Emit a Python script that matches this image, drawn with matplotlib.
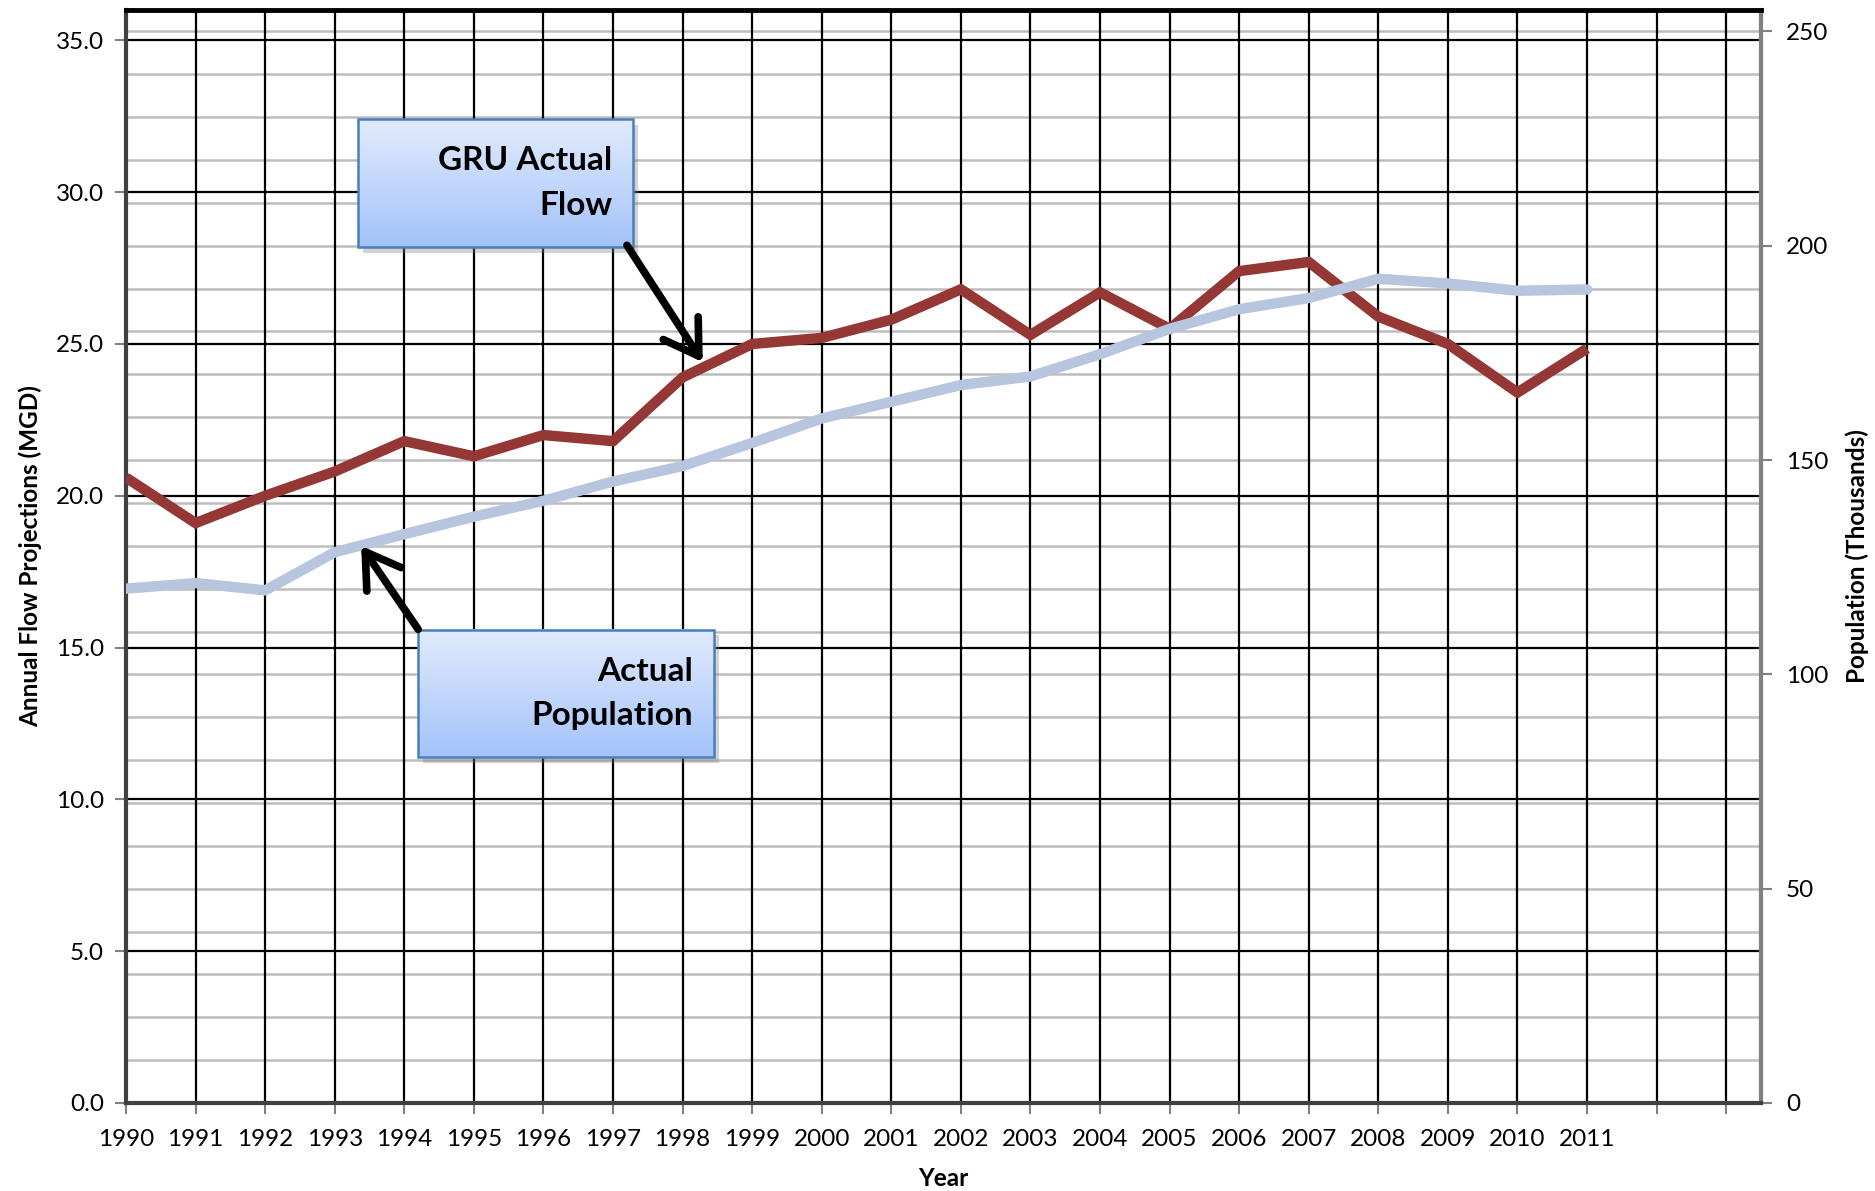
import matplotlib.pyplot as plt
import numpy as np
from matplotlib.colors import LinearSegmentedColormap
from matplotlib.patches import Rectangle

plt.rcParams['font.family'] = ['Lato', 'DejaVu Sans']

years = list(range(1990, 2012))
flow_mgd = [20.6, 19.1, 20.0, 20.8, 21.8, 21.3, 22.0, 21.8, 23.9, 25.0, 25.2,
            25.8, 26.8, 25.3, 26.7, 25.5, 27.4, 27.7, 25.9, 25.0, 23.4, 24.85]
population_k = [120.0, 121.3, 119.6, 128.5, 132.7, 136.8, 140.5, 145.0, 148.6,
                154.0, 159.7, 163.6, 167.5, 169.5, 174.7, 180.6, 185.2, 187.8,
                192.3, 191.2, 189.5, 189.8]
year_ticks = list(range(1990, 2014))
year_labels = [str(y) if y <= 2011 else '' for y in year_ticks]
flow_ticks = np.arange(0, 36, 5)
pop_ticks = np.arange(0, 251, 50)
pop_minor = np.arange(0, 251, 10)

RED = '#953735'
BLUE = '#b8c5de'

fig = plt.figure(figsize=(18.75, 11.91), dpi=100)
ax = fig.add_axes([0.0672, 0.0739, 0.8720, 0.9177])
ax2 = ax.twinx()
# right-hand axis sits behind so its grey grid stays under everything
ax.set_zorder(ax2.get_zorder() + 1)
ax.patch.set_visible(False)
ax2.patch.set_visible(True)
ax2.patch.set_facecolor('white')

ax.set_xlim(1990, 2013.5)
ax.set_ylim(0, 36)
ax2.set_ylim(0, 255)

# grids
ax2.set_yticks(pop_ticks)
ax2.set_yticks(pop_minor, minor=True)
ax2.grid(True, which='both', axis='y', color='#bdbdbd', lw=1.8)
ax2.tick_params(which='minor', length=0)
ax2.tick_params(which='major', axis='y', length=8, width=1.5, color='#808080',
                labelsize=17.5, pad=10)
for s in ax2.spines.values():
    s.set_visible(False)

ax.set_xticks(year_ticks)
ax.set_xticklabels(year_labels)
ax.set_yticks(flow_ticks)
ax.set_yticklabels([f'{v:.1f}' for v in flow_ticks])
ax.set_axisbelow(True)
ax.grid(True, color='black', lw=1.6)
ax.tick_params(axis='both', length=8, width=1.5, color='#808080', labelsize=17.5)
ax.tick_params(axis='x', pad=11)
ax.tick_params(axis='y', pad=8)

ax.spines['left'].set_color('#404040')
ax.spines['left'].set_linewidth(3)
ax.spines['bottom'].set_color('#404040')
ax.spines['bottom'].set_linewidth(3)
ax.spines['top'].set_color('black')
ax.spines['top'].set_linewidth(3.5)
ax.spines['right'].set_color('#808080')
ax.spines['right'].set_linewidth(3)

# data lines
ax.plot(years, flow_mgd, color=RED, lw=7.5, solid_joinstyle='miter',
        solid_capstyle='butt', zorder=3)
ax.plot(years, population_k, color=BLUE, lw=7.5, solid_capstyle='round',
        transform=ax2.transData, zorder=3)

ax.set_xlabel('Year', fontsize=17.5, fontweight='bold', labelpad=12)
ax.set_ylabel('Annual Flow Projections (MGD)', fontsize=17.5, fontweight='bold',
              labelpad=10)
ax2.set_ylabel('Population (Thousands)', fontsize=17.5, fontweight='bold',
               rotation=90, labelpad=12)

# callout boxes
grad_cmap = LinearSegmentedColormap.from_list('box', ['#a3c3fa', '#e2ebfd'])
gradient = np.linspace(0, 1, 256).reshape(-1, 1)


def callout(x0, x1, y0, y1, text, tip, tail):
    ax.add_patch(Rectangle((x0 + 0.07, y0 - 0.18), x1 - x0, y1 - y0,
                           facecolor='#7f7f7f', alpha=0.35, lw=0, zorder=5))
    ax.imshow(gradient, extent=[x0, x1, y0, y1], aspect='auto', cmap=grad_cmap,
              origin='lower', zorder=6)
    ax.add_patch(Rectangle((x0, y0), x1 - x0, y1 - y0, fill=False,
                           edgecolor='#4a7ebb', lw=1.8, zorder=7))
    ax.text(x1 - 0.3, (y0 + y1) / 2, text, ha='right', va='center',
            fontsize=24, fontweight='bold', linespacing=1.65, zorder=8)
    ax.annotate('', xy=tip, xytext=tail, zorder=8,
                arrowprops=dict(arrowstyle='->,head_length=0.8,head_width=0.5',
                                color='black', lw=5.5, mutation_scale=30,
                                shrinkA=0, shrinkB=0))


callout(1993.33, 1997.29, 28.19, 32.4, 'GRU Actual\nFlow',
        tip=(1998.29, 24.4), tail=(1997.2, 28.25))
callout(1994.2, 1998.45, 11.38, 15.59, 'Actual\nPopulation',
        tip=(1993.38, 18.35), tail=(1994.2, 15.6))

ax.set_xlim(1990, 2013.5)
ax.set_ylim(0, 36)

fig.savefig('out.png', dpi=100)
